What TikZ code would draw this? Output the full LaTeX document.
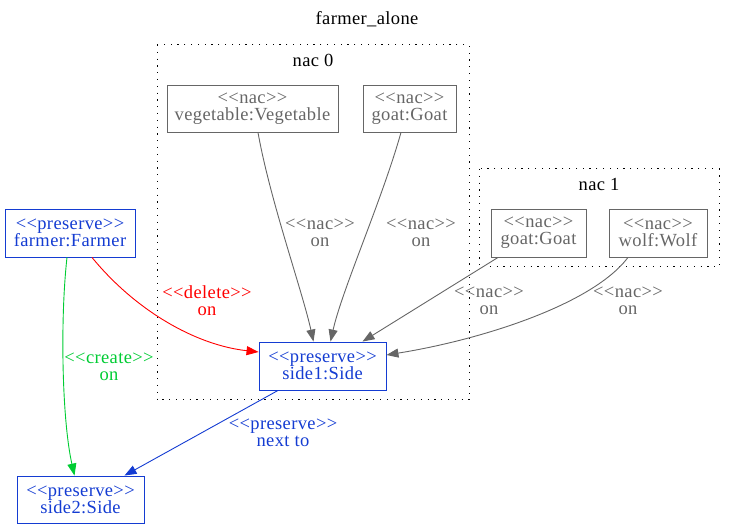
\documentclass[tikz,border=0pt]{standalone}
\usepackage{fontspec}
\setmainfont{Liberation Serif}[Ligatures = TeXOff, LetterSpace = 2]
\usetikzlibrary{arrows.meta}
\definecolor{presblue}{RGB}{20,60,210}
\definecolor{nacgray}{RGB}{102,102,102}
\definecolor{creategreen}{RGB}{0,204,51}
\tikzstyle{preserve} = [rectangle, draw = presblue, text = presblue, line width = 0.9pt, align = center, inner sep = 0pt]
\tikzstyle{nac} = [rectangle, draw = nacgray, text = nacgray, line width = 0.9pt, align = center, inner sep = 0pt]
\tikzstyle{cluster} = [draw = black, line width = 1pt, dash pattern = on 1.2pt off 5.6pt]
\tikzstyle{lbl} = [align = center, inner sep = 0pt]
\tikzstyle{arrow} = [line width = 0.9pt, -{Triangle[length = 12pt, width = 9pt]}]

\begin{document}
\begin{tikzpicture}[x = 1pt, y = -1pt, font = \fontsize{18.5}{17}\selectfont]
    \useasboundingbox (0,0) rectangle (734,529);
    % title and clusters
    \node(title) at (367,19){farmer\_alone};
    \draw[cluster](157,45) rectangle (469,400);
    \node(nac0) at (313,60){nac 0};
    \draw[cluster](479,169) rectangle (719,267);
    \node(nac1) at (599,184){nac 1};

    % \node(label)[style]{text};
    \node(vegetable)[nac, minimum width = 171pt, minimum height = 47pt] at (252.5,108.5){<<nac>>\\vegetable:Vegetable};
    \node(goat0)[nac, minimum width = 93pt, minimum height = 47pt] at (409.5,108.5){<<nac>>\\goat:Goat};
    \node(goat1)[nac, minimum width = 95pt, minimum height = 48pt] at (538.5,233){<<nac>>\\goat:Goat};
    \node(wolf)[nac, minimum width = 98pt, minimum height = 48pt] at (658,233){<<nac>>\\wolf:Wolf};
    \node(farmer)[preserve, minimum width = 130pt, minimum height = 48pt] at (70,233){<<preserve>>\\farmer:Farmer};
    \node(side1)[preserve, minimum width = 127pt, minimum height = 48pt] at (322.5,366){<<preserve>>\\side1:Side};
    \node(side2)[preserve, minimum width = 127pt, minimum height = 47pt] at (80.5,499.5){<<preserve>>\\side2:Side};

    \draw[arrow, nacgray](vegetable.south -| 258,0) .. controls (270,200) and (302,290) .. ([xshift = -9pt]side1.north);
    \draw[arrow, nacgray](goat0.south -| 401,0) .. controls (382,200) and (342,290) .. ([xshift = 8pt]side1.north);
    \draw[arrow, nacgray](goat1.south -| 498,0) -- ([xshift = 40pt]side1.north);
    \draw[arrow, nacgray](wolf.south -| 628,0) .. controls (592,305) and (480,340) .. ([yshift = 11pt]side1.east);
    \draw[arrow, red](farmer.south -| 92,0) .. controls (135,310) and (195,345) .. ([yshift = 14pt]side1.west);
    \draw[arrow, creategreen](farmer.south -| 67,0) .. controls (60,320) and (62,420) .. ([xshift = -6pt]side2.north);
    \draw[arrow, presblue](side1.south -| 278,0) -- ([xshift = 44pt]side2.north);

    \node(l1)[lbl, text = nacgray] at (320,233){<<nac>>\\on};
    \node(l2)[lbl, text = nacgray] at (421,233){<<nac>>\\on};
    \node(l3)[lbl, text = nacgray] at (489,301){<<nac>>\\on};
    \node(l4)[lbl, text = nacgray] at (628,301){<<nac>>\\on};
    \node(l5)[lbl, text = red] at (207,301){<<delete>>\\on};
    \node(l6)[lbl, text = creategreen] at (109,367){<<create>>\\on};
    \node(l7)[lbl, text = presblue] at (283,433){<<preserve>>\\next to};
\end{tikzpicture}
\end{document}
